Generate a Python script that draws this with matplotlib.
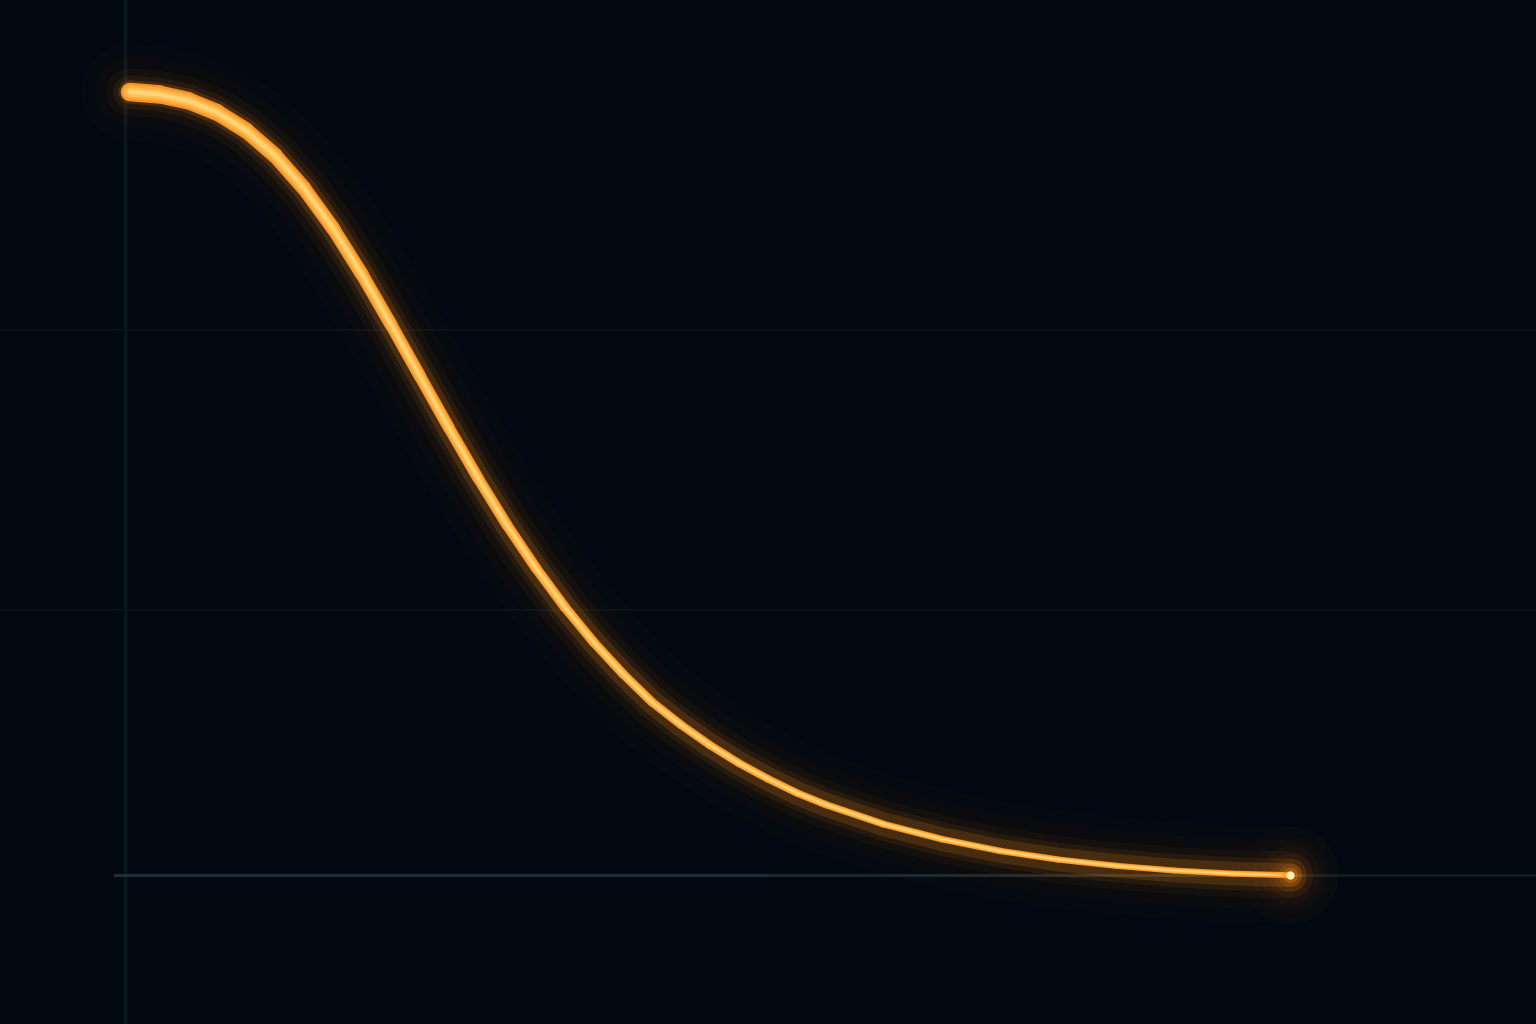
import numpy as np
import matplotlib
matplotlib.use('Agg')
import matplotlib.pyplot as plt
from matplotlib.collections import LineCollection

# values (curve decays from 1 to 0)
x_vals = [0.0, 0.25, 0.5, 0.75, 1.0, 1.25, 1.5, 1.75, 2.0, 2.25, 2.5, 2.75,
          3.0, 3.25, 3.5, 3.75, 4.0, 4.25, 4.5, 4.75, 5.0, 5.25, 5.5, 5.75,
          6.0, 6.5, 7.0, 7.5, 8.0, 8.5, 9.0, 9.5, 10.0]
y_vals = [1.000, 0.997, 0.989, 0.974, 0.951, 0.919, 0.877, 0.826, 0.767, 0.703,
          0.637, 0.571, 0.507, 0.447, 0.392, 0.342, 0.297, 0.257, 0.221, 0.192,
          0.166, 0.143, 0.123, 0.105, 0.090, 0.065, 0.046, 0.031, 0.020, 0.012,
          0.006, 0.002, 0.0]
grid_y = [0.338, 0.696]

BG = '#020811'

fig = plt.figure(figsize=(15.36, 10.24), dpi=100, facecolor=BG)
ax = fig.add_axes([0, 0, 1, 1])
ax.set_facecolor(BG)
ax.set_xlim(-1.121, 12.121)
ax.set_ylim(-0.190, 1.1175)
ax.axis('off')

# faint grid + axis lines
for gy in grid_y:
    ax.axhline(gy, color='#08121a', lw=1.5, zorder=1)
ax.axvline(-0.04, color='#0a151d', lw=2.5, zorder=1)
ax.axhline(0, xmin=0.075, xmax=0.5, color='#1e2f37', lw=2.2, zorder=1)
ax.axhline(0, xmin=0.5, xmax=0.85, color='#19282f', lw=2.2, zorder=1)
ax.axhline(0, xmin=0.85, color='#0e1b22', lw=2.2, zorder=1)

x = np.array(x_vals)
y = np.array(y_vals)

# soft halo, single lines so alpha does not stack at the joints
for lw, col, a in [(70, '#ff7000', 0.015), (50, '#ff7800', 0.025),
                   (34, '#ff8000', 0.045), (24, '#ff8a10', 0.08),
                   (17, '#ff9418', 0.16)]:
    ax.plot(x, y, color=col, lw=lw, alpha=a, solid_capstyle='round',
            solid_joinstyle='round', zorder=2)

# opaque core, thicker at the top-left
pts = np.column_stack([x, y]).reshape(-1, 1, 2)
segs = np.concatenate([pts[:-1], pts[1:]], axis=1)
t = (x[:-1] + x[1:]) / 2 / x.max()
core_lw = (6 + 13 * (1 - t) ** 2.5) * 0.72
for mult, col in [(1.0, '#f5922a'), (0.75, '#ffab3a'), (0.5, '#ffbf50'),
                  (0.25, '#ffd478')]:
    lc = LineCollection(segs, linewidths=core_lw * mult, colors=col,
                        capstyle='round', joinstyle='round', zorder=3)
    ax.add_collection(lc)

# bright tip at the end of the curve
for ms, a in [(70, 0.015), (55, 0.02), (42, 0.03), (32, 0.05), (24, 0.08),
              (17, 0.14), (11, 0.3)]:
    ax.plot(x[-1], y[-1], 'o', ms=ms, color='#ff8a10', alpha=a, mec='none', zorder=4)
ax.plot(x[-1], y[-1], 'o', ms=6, color='#ffeaa8', mec='none', zorder=5)

fig.savefig('out.png', dpi=100, facecolor=BG)
